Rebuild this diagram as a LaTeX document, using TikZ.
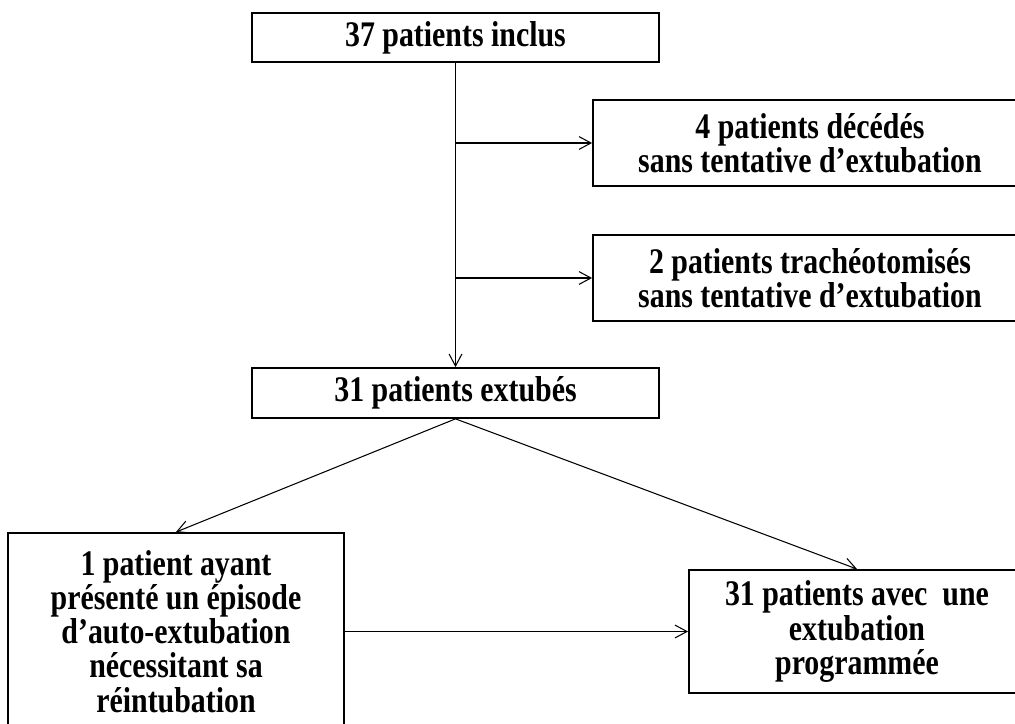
\documentclass[tikz,border=0pt]{standalone}
\usepackage{fontspec}
\setmainfont[FakeStretch=0.83]{Liberation Serif}
\usetikzlibrary{arrows.meta}

\begin{document}
\begin{tikzpicture}[x=0.025cm, y=-0.025cm,
    box/.style={rectangle, draw, line width=1.2pt, align=center, inner sep=0,
      font=\fontsize{25.6}{24.3}\selectfont\bfseries},
    flow/.style={line width=0.75pt, -{Straight Barb[length=3mm, width=3.2mm]}}]
        \useasboundingbox (0, 0) rectangle (1015, 724);

        \node (inclus) [box, minimum width=10.18cm, minimum height=1.23cm] at (455.5, 37.5) {37 patients inclus};
        \node (deces) [box, minimum width=10.85cm, minimum height=2.15cm] at (810, 143) {4 patients décédés\\sans tentative d’extubation};
        \node (tracheo) [box, minimum width=10.85cm, minimum height=2.15cm] at (810, 278) {2 patients trachéotomisés\\sans tentative d’extubation};
        \node (extubes) [box, minimum width=10.18cm, minimum height=1.25cm] at (455.5, 393) {31 patients extubés};

        \node (autoext) [box, minimum width=8.4cm, minimum height=4.93cm] at (176, 631.5) {1 patient ayant\\présenté un épisode\\d’auto-extubation\\nécessitant sa\\réintubation};
        \node (programme) [box, minimum width=8.4cm, minimum height=3.08cm] at (857, 631.5) {31 patients avec~ une\\extubation\\programmée};

        \coordinate (j0) at (inclus.south |- deces.west);
        \coordinate (j1) at (inclus.south |- tracheo.west);

        \path[flow]
        (inclus) edge (extubes)
        (j0) edge (deces.west)
        (j1) edge (tracheo.west)

        (extubes.south) edge (autoext.north) edge (programme.north)
        (autoext.east) edge (programme.west)
        ;
      \end{tikzpicture}
\end{document}
